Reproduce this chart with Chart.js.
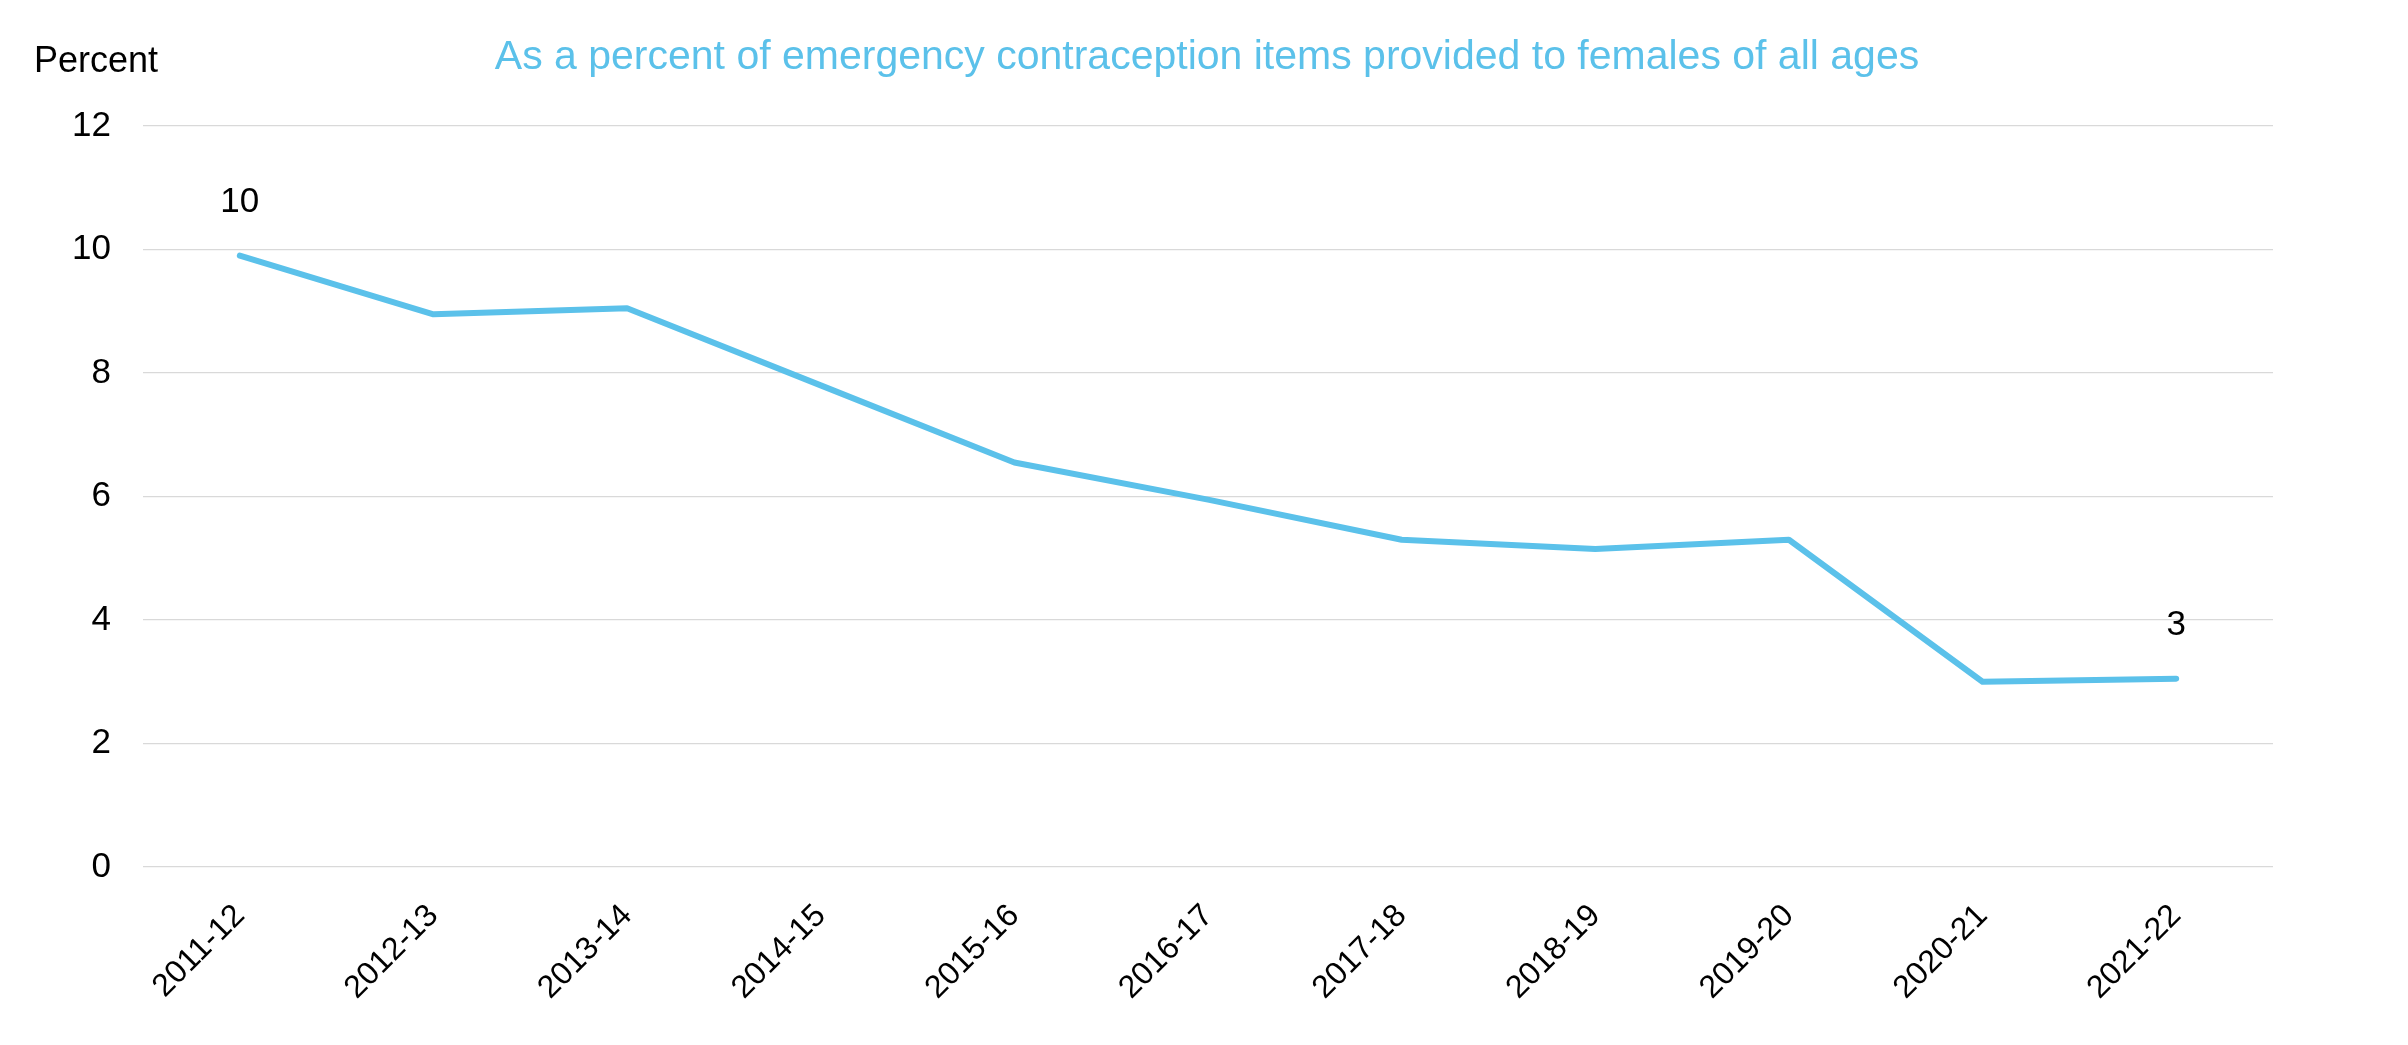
<!DOCTYPE html>
<html>
<head>
<meta charset="utf-8">
<script src="https://cdn.jsdelivr.net/npm/chart.js@4/dist/chart.umd.min.js"></script>
<style>
    html, body { margin: 0; padding: 0; background: #fff; }
    #wrap { width: 2408px; height: 1045px; }
</style>
</head>
<body>
<div id="wrap"><canvas id="myChart"></canvas></div>
<script>
const YEARS = ["2011-12", "2012-13", "2013-14", "2014-15", "2015-16", "2016-17",
    "2017-18", "2018-19", "2019-20", "2020-21", "2021-22"];
const PERCENT = [9.9, 8.95, 9.05, 7.8, 6.55, 5.95, 5.3, 5.15, 5.3, 3.0, 3.05];
// only first and last points carry a label
const LABELLED = [0, 10];
const Y_TICKS = [0, 2, 4, 6, 8, 10, 12];

const TITLE = "As a percent of emergency contraception items provided to females of all ages";
const Y_LABEL = "Percent";

const BLUE = "rgb(91, 193, 234)";
const FONT = "'Liberation Sans', Arial, sans-serif";

Chart.defaults.font.family = FONT;
Chart.defaults.color = "#000";

// title across the whole canvas, point labels, and "Percent" over the y axis
const extras = {
    id: 'extras',
    afterDatasetsDraw(chart) {
        const ctx = chart.ctx;
        const meta = chart.getDatasetMeta(0);
        ctx.save();
        ctx.textBaseline = "middle";

        ctx.font = "41px " + FONT;
        ctx.fillStyle = BLUE;
        ctx.textAlign = "center";
        ctx.fillText(TITLE, chart.width / 2 + 3, 58);

        ctx.font = "35px " + FONT;
        ctx.fillStyle = "#000";
        for (let i of LABELLED) {
            let pt = meta.data[i];
            ctx.fillText(String(Math.round(PERCENT[i])), pt.x, pt.y - 53);
        }
        ctx.font = "36px " + FONT;
        ctx.textAlign = "left";
        ctx.fillText(Y_LABEL, chart.scales.y.left + 34, 62);
        ctx.restore();
    }
};

const ctx = document.getElementById('myChart').getContext('2d');

new Chart(ctx, {
    type: 'line',
    data: {
        labels: YEARS,
        datasets: [{
            label: "Percent",
            data: PERCENT,
            borderColor: BLUE,
            backgroundColor: BLUE,
            borderWidth: 6,
            borderCapStyle: 'round',
            borderJoinStyle: 'round',
            pointRadius: 0,
            tension: 0,
        }]
    },
    options: {
        responsive: true,
        maintainAspectRatio: false,
        animation: false,
        layout: {
            padding: { left: 0, right: 135, top: 126, bottom: 0 }
        },
        plugins: {
            legend: { display: false },
            tooltip: { enabled: false },
            title: { display: false }
        },
        scales: {
            x: {
                offset: true,
                grid: { display: false, drawTicks: false },
                border: { display: false },
                ticks: {
                    font: { size: 32 },
                    minRotation: 45,
                    maxRotation: 45,
                    padding: 30,
                },
                afterFit: s => { s.height = 178; }
            },
            y: {
                min: 0,
                max: 12,
                afterBuildTicks: s => { s.ticks = Y_TICKS.map(v => ({ value: v })); },
                grid: { color: "#d9d9d9", lineWidth: 1.3, drawTicks: false },
                border: { display: false },
                ticks: {
                    font: { size: 35 },
                    padding: 32,
                },
                afterFit: s => { s.width = 143; }
            }
        }
    },
    plugins: [extras]
});
</script>
</body>
</html>
